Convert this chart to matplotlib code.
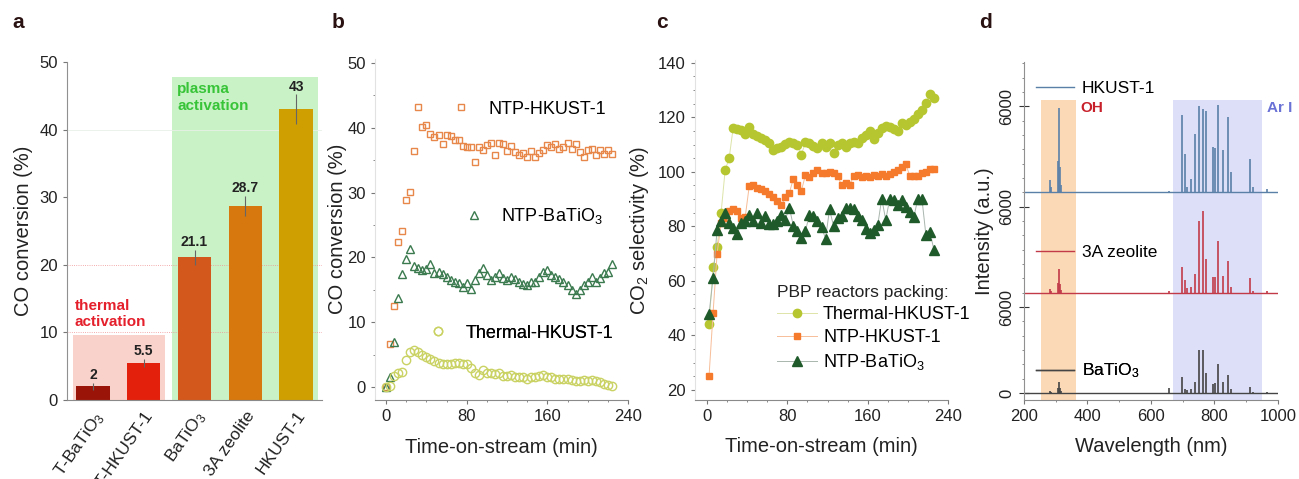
import matplotlib
matplotlib.use("Agg")
import numpy as np
import matplotlib.pyplot as plt
from matplotlib.lines import Line2D
from matplotlib.patches import Rectangle
from matplotlib.ticker import MultipleLocator

plt.rcParams['font.family'] = ['Liberation Sans', 'DejaVu Sans']
plt.rcParams['mathtext.fontset'] = 'custom'
plt.rcParams['mathtext.rm'] = 'Liberation Sans'
plt.rcParams['mathtext.it'] = 'Liberation Sans:italic'
plt.rcParams['mathtext.bf'] = 'Liberation Sans:bold'
plt.rcParams['axes.unicode_minus'] = False

# ---- panel a : CO conversion per packing ----
packings = ['T-BaTiO$_3$', 'T-HKUST-1', 'BaTiO$_3$', '3A zeolite', 'HKUST-1']
conversion = [2, 5.5, 21.1, 28.7, 43]
conv_err = [0.5, 0.6, 1.1, 1.5, 2.2]
conv_text = ['2', '5.5', '21.1', '28.7', '43']
bar_colors = ['#9a1508', '#e2200c', '#d2581c', '#d6780e', '#cf9f02']

# ---- panel b : CO conversion vs time ----
time_b = [0, 4, 8, 12, 16, 20, 24, 28, 32, 36, 40, 44, 48, 52, 56, 60, 64, 68, 72, 76,
          80, 84, 88, 92, 96, 100, 104, 108, 112, 116, 120, 124, 128, 132, 136, 140, 144,
          148, 152, 156, 160, 164, 168, 172, 176, 180, 184, 188, 192, 196, 200, 204, 208,
          212, 216, 220, 224]
conv_ntp_hkust = [0.0, 6.7, 12.5, 22.4, 24.1, 28.9, 30.1, 36.4, 43.2, 40.2,
                  40.5, 39.1, 38.6, 38.9, 37.5, 38.9, 38.7, 38.2, 38.1, 37.2,
                  37.1, 37.0, 34.8, 37.0, 36.6, 37.3, 37.6, 35.8, 37.7, 37.5,
                  36.5, 37.2, 36.3, 35.8, 36.1, 35.5, 36.5, 35.5, 36.1, 36.6,
                  37.3, 37.0, 37.5, 36.8, 37.0, 37.7, 36.8, 37.5, 36.2, 35.5,
                  36.6, 36.8, 35.8, 36.6, 36.0, 36.6, 36.0]
conv_ntp_batio = [0.0, 1.5, 7.0, 13.7, 17.5, 19.7, 21.3, 18.7, 18.4, 18.1,
                  18.2, 19.0, 17.6, 17.8, 17.4, 17.0, 16.5, 16.2, 16.0, 15.5,
                  16.0, 15.2, 16.5, 17.6, 18.3, 17.3, 16.5, 17.0, 17.6, 16.8,
                  16.5, 17.0, 16.6, 16.2, 15.9, 15.8, 16.2, 16.2, 17.0, 17.8,
                  18.1, 17.3, 17.0, 16.6, 16.2, 15.7, 15.0, 14.4, 15.0, 15.8,
                  16.2, 17.0, 16.2, 16.8, 17.6, 17.7, 19.0]
conv_th_hkust = [0.0, 0.1, 1.7, 2.2, 2.3, 4.2, 5.4, 5.7, 5.4, 5.0,
                 4.6, 4.4, 4.0, 3.7, 3.5, 3.5, 3.6, 3.7, 3.7, 3.6,
                 3.5, 2.9, 2.2, 1.8, 2.6, 2.1, 2.1, 2.0, 2.2, 1.7,
                 1.7, 1.85, 1.6, 1.6, 1.5, 1.3, 1.6, 1.5, 1.7, 1.85,
                 1.6, 1.5, 1.3, 1.2, 1.2, 1.3, 1.1, 1.0, 1.0, 1.1,
                 1.0, 1.1, 1.0, 0.8, 0.5, 0.3, 0.15]

# ---- panel c : CO2 selectivity vs time ----
time_c = [2, 6, 10, 14, 18, 22, 26, 30, 34, 38, 42, 46, 50, 54, 58, 62, 66, 70, 74, 78,
          82, 86, 90, 94, 98, 102, 106, 110, 114, 118, 122, 126, 130, 134, 138, 142, 146,
          150, 154, 158, 162, 166, 170, 174, 178, 182, 186, 190, 194, 198, 202, 206, 210,
          214, 218, 222, 226]
sel_th_hkust = [44, 65, 72.5, 85, 100.5, 105, 116, 115.8, 115.4, 114,
                116.5, 114, 113, 112.3, 111.5, 110.5, 108, 108.6, 109.2, 110.2,
                110.8, 110.4, 109.8, 106.2, 111, 110.4, 109.6, 108.8, 110.4, 109.2,
                110.7, 107, 109.8, 110.4, 109, 110.4, 111, 110.4, 112.3, 113.5,
                115.1, 112, 114.4, 116, 116.8, 116.6, 115.6, 114.8, 117.8, 117,
                118.1, 119.3, 121.3, 122.5, 125.4, 128.5, 127]
sel_ntp_hkust = [25.1, 48.2, 70, 81.3, 82.9, 85.8, 86.5, 85.8, 83.1, 83.4,
                 94.7, 95.3, 94.1, 93.8, 93.1, 91.9, 90.7, 89.2, 87.7, 90.7,
                 92.3, 97.5, 95.3, 93.1, 98.8, 98, 99.6, 100.5, 99.7, 99.4,
                 100, 99.4, 98.4, 95.1, 96, 95.1, 98.4, 98.8, 98.2, 98.4,
                 98.2, 98.8, 98.4, 99.1, 98.6, 99.1, 100, 100.6, 101.6, 102.8,
                 98.4, 98.4, 98.6, 99.4, 100, 100.9, 100.9]
sel_ntp_batio = [47.9, 61, 78.8, 82, 85, 81.3, 79.5, 77, 81.3, 81.9,
                 84.3, 81.9, 85, 81.3, 83.8, 80.7, 80.7, 81.9, 84.3, 82.5,
                 86.8, 80.1, 78.3, 75.8, 78.3, 84.3, 83.8, 81.9, 79.8, 75.5,
                 86.2, 80.1, 82.9, 83.8, 86.6, 86.6, 86.2, 83.8, 82.3, 79.2,
                 77.4, 78.8, 80.4, 90.2, 82.3, 90.2, 89.8, 87.7, 89.6, 87.1,
                 85.3, 83.4, 90.2, 90.2, 76.8, 78, 71.3]

# ---- panel d : OES lines (nm) and heights (counts above each baseline) ----
lines_nm = [282, 286, 306, 309, 312, 316, 656.3, 696.5, 706.7, 714.7, 727.3, 738.4,
            750.4, 763.5, 772.4, 794.8, 801.5, 811.5, 826.5, 842.5, 852.1, 912.3,
            922.4, 965.8]
int_hkust = [850, 400, 2200, 5900, 1800, 500, 120, 5375, 2700, 350, 954, 4094,
             6003, 5840, 5677, 3164, 3080, 6072, 2930, 5259, 1420, 2350, 400, 200]
int_zeolite = [256, 150, 700, 1650, 600, 200, 150, 1768, 884, 300, 400, 1303,
               4979, 5724, 2350, 1070, 1117, 3583, 1187, 2234, 400, 1024, 150, 100]
int_batio = [150, 80, 350, 790, 350, 120, 326, 1094, 300, 200, 250, 791,
             3001, 3001, 1373, 605, 675, 2024, 791, 1256, 300, 442, 100, 50]
spec_offsets = [14000, 7000, 0]
spec_names = ['HKUST-1', '3A zeolite', 'BaTiO$_3$']
spec_colors = ['#5b80a8', '#c23a48', '#454545']

W, H = 1299, 479


def box(l, t, r, b):
    return [l / W, 1 - b / H, (r - l) / W, (b - t) / H]


def style(ax, left_col='#909090'):
    for s in ['top', 'right']:
        ax.spines[s].set_visible(False)
    ax.spines['bottom'].set_color('#8a8a8a')
    ax.spines['left'].set_color(left_col)
    ax.tick_params(which='both', colors='#777777', labelcolor='#222222', labelsize=12)
    ax.tick_params(which='major', length=3, width=0.8)
    ax.tick_params(which='minor', length=1.5, width=0.6)


fig = plt.figure(figsize=(12.99, 4.79), dpi=100)

# ================= a =================
ax_a = fig.add_axes(box(67, 62, 322, 400))
style(ax_a)
xa = np.arange(len(packings))
ax_a.add_patch(Rectangle((-0.39, 0), 1.81, 9.6, color='#f9d3cb', lw=0, zorder=0))
ax_a.add_patch(Rectangle((1.56, 0), 2.87, 47.8, color='#c9f2c6', lw=0, zorder=0))
ax_a.axhline(10, color='#f09090', lw=0.6, ls=':', zorder=0.5)
ax_a.axhline(20, color='#f09090', lw=0.6, ls=':', zorder=0.5)
ax_a.axhline(40, color='#e8f0e8', lw=0.6, zorder=0.5)
ax_a.bar(xa, conversion, width=0.66, color=bar_colors, zorder=2)
ax_a.errorbar(xa, conversion, yerr=conv_err, fmt='none', ecolor='#666666',
              elinewidth=0.8, capsize=0, zorder=3)
for i in range(len(xa)):
    ax_a.text(xa[i], conversion[i] + conv_err[i] + 0.1, conv_text[i], ha='center',
              va='bottom', fontsize=10, fontweight='bold', color='#222222', zorder=4)
ax_a.text(1.66, 47.0, 'plasma\nactivation', color='#38c438', fontsize=11,
          fontweight='bold', va='top', ha='left', linespacing=1.25)
ax_a.text(-0.36, 15.0, 'thermal\nactivation', color='#e4202c', fontsize=11,
          fontweight='bold', va='top', ha='left', linespacing=1.25)
ax_a.set_xlim(-0.51, 4.51)
ax_a.set_ylim(0, 50)
ax_a.yaxis.set_major_locator(MultipleLocator(10))
ax_a.set_xticks(xa)
ax_a.set_xticklabels(packings, rotation=55, ha='right', rotation_mode='anchor', fontsize=12.5)
ax_a.tick_params(axis='x', length=0, pad=6)
ax_a.set_ylabel('CO conversion (%)', fontsize=14.5, color='#222222')
ax_a.yaxis.set_label_coords(-0.133, 0.5)

# ================= b =================
ax_b = fig.add_axes(box(375, 58.5, 628, 400))
style(ax_b, left_col='#e2e2e2')
ax_b.plot(time_b, conv_ntp_hkust, ls='none', marker='s', ms=5, mfc='none',
          mec='#e8874a', mew=1.0)
ax_b.plot(time_b, conv_ntp_batio, ls='none', marker='^', ms=6, mfc='none',
          mec='#3a7a4e', mew=1.0)
ax_b.plot(time_b, conv_th_hkust, ls='none', marker='o', ms=6, mfc='none',
          mec='#c9d262', mew=1.0)
ax_b.set_xlim(-11, 240)
ax_b.set_ylim(-2, 50.7)
ax_b.set_xticks([0, 80, 160, 240])
ax_b.xaxis.set_minor_locator(MultipleLocator(20))
ax_b.yaxis.set_major_locator(MultipleLocator(10))
ax_b.yaxis.set_minor_locator(MultipleLocator(5))
ax_b.set_xlabel('Time-on-stream (min)', fontsize=14.5, color='#222222')
ax_b.xaxis.set_label_coords(0.5, -0.11)
ax_b.set_ylabel('CO conversion (%)', fontsize=14.5, color='#222222')
ax_b.yaxis.set_label_coords(-0.11, 0.5)

b_keys = [
    (Line2D([], [], ls='none', marker='s', ms=5, mfc='none', mec='#e8874a', mew=1.0),
     'NTP-HKUST-1', 606, 109),
    (Line2D([], [], ls='none', marker='^', ms=6, mfc='none', mec='#3a7a4e', mew=1.0),
     'NTP-BaTiO$_3$', 603, 216),
    (Line2D([], [], ls='none', marker='o', ms=6, mfc='none', mec='#c9d262', mew=1.0),
     'Thermal-HKUST-1', 613, 333),
]
for h, lab, xr, yc in b_keys:
    lg = ax_b.legend(handles=[h], labels=[lab], loc='center right',
                     bbox_to_anchor=(xr / W, 1 - yc / H), bbox_transform=fig.transFigure,
                     frameon=False, fontsize=13, handlelength=1.0, handletextpad=1.0,
                     borderpad=0, borderaxespad=0)
    ax_b.add_artist(lg)

# ================= c =================
ax_c = fig.add_axes(box(695, 60, 948, 400))
style(ax_c, left_col='#e2e2e2')
l_th, = ax_c.plot(time_c, sel_th_hkust, color='#dde4a8', lw=0.7, marker='o', ms=6,
                  mfc='#b6c630', mec='#b6c630')
l_hk, = ax_c.plot(time_c, sel_ntp_hkust, color='#f7bd98', lw=0.7, marker='s', ms=5,
                  mfc='#f57a2c', mec='#f57a2c')
l_ba, = ax_c.plot(time_c, sel_ntp_batio, color='#a9b6ae', lw=0.7, marker='^', ms=6.5,
                  mfc='#1f5a2a', mec='#1f5a2a')
ax_c.set_xlim(-12, 240)
ax_c.set_ylim(16.3, 141)
ax_c.set_xticks([0, 80, 160, 240])
ax_c.xaxis.set_minor_locator(MultipleLocator(20))
ax_c.yaxis.set_major_locator(MultipleLocator(20))
ax_c.yaxis.set_minor_locator(MultipleLocator(5))
ax_c.set_xlabel('Time-on-stream (min)', fontsize=14.5, color='#222222')
ax_c.xaxis.set_label_coords(0.5, -0.11)
ax_c.set_ylabel('CO$_2$ selectivity (%)', fontsize=14.5, color='#222222')
ax_c.yaxis.set_label_coords(-0.174, 0.5)
lg_c = ax_c.legend([l_th, l_hk, l_ba], ['Thermal-HKUST-1', 'NTP-HKUST-1', 'NTP-BaTiO$_3$'],
                   title='PBP reactors packing:', title_fontsize=12.5, fontsize=13,
                   loc='upper left', bbox_to_anchor=(777 / W, 1 - 285 / H),
                   bbox_transform=fig.transFigure, frameon=False, alignment='left',
                   handlelength=2.2, handletextpad=0.35, labelspacing=0.33,
                   borderpad=0, borderaxespad=0)
lg_c.get_title().set_color('#222222')

# ================= d =================
ax_d = fig.add_axes(box(1024, 62, 1278, 400))
style(ax_d)
band_top = (20440 + 488) / (23093 + 488)
ax_d.axvspan(253, 363, ymin=0, ymax=band_top, color='#fbd9b6', lw=0, zorder=0)
ax_d.axvspan(670, 950, ymin=0, ymax=band_top, color='#dcdff7', lw=0, zorder=0)
spectra = [int_hkust, int_zeolite, int_batio]
for k in range(3):
    off = spec_offsets[k]
    ax_d.axhline(off, color=spec_colors[k], lw=1.0, zorder=2)
    ax_d.vlines(lines_nm, off, off + np.array(spectra[k]), color=spec_colors[k],
                lw=1.2, zorder=2)
ax_d.text(376, 19900, 'OH', color='#c8202a', fontsize=11, fontweight='bold', va='center')
ax_d.text(965, 19900, 'Ar I', color='#6a72d6', fontsize=11, fontweight='bold',
          va='center', clip_on=False)
ax_d.set_xlim(200, 1000)
ax_d.set_ylim(-488, 23093)
ax_d.set_xticks([200, 400, 600, 800, 1000])
ax_d.xaxis.set_minor_locator(MultipleLocator(100))
ax_d.set_yticks([0, 6000, 13000, 20000])
ax_d.set_yticklabels(['0', '6000', '6000', '6000'], rotation=90, va='center')
ax_d.tick_params(axis='y', which='major', direction='inout', length=7, color='#333333')
ax_d.yaxis.set_minor_locator(MultipleLocator(1000))
ax_d.set_xlabel('Wavelength (nm)', fontsize=14.5, color='#222222')
ax_d.xaxis.set_label_coords(0.5, -0.11)
ax_d.set_ylabel('Intensity (a.u.)', fontsize=14.5, color='#222222')
ax_d.yaxis.set_label_coords(-0.118, 0.5)
d_keys_y = [88, 252, 371]
for k in range(3):
    lg = ax_d.legend(handles=[Line2D([], [], color=spec_colors[k], lw=1.0)],
                     labels=[spec_names[k]], loc='center left',
                     bbox_to_anchor=(1036 / W, 1 - d_keys_y[k] / H),
                     bbox_transform=fig.transFigure, frameon=False, fontsize=12.5,
                     handlelength=2.2, handletextpad=0.45, borderpad=0, borderaxespad=0)
    ax_d.add_artist(lg)

# panel letters
for lab, xp in zip(['a', 'b', 'c', 'd'], [18, 338, 662, 985]):
    fig.text(xp / W, 1 - 22 / H, lab, fontsize=15, fontweight='bold', color='#2a1212',
             ha='center', va='center')

fig.savefig('out.png', dpi=100)
